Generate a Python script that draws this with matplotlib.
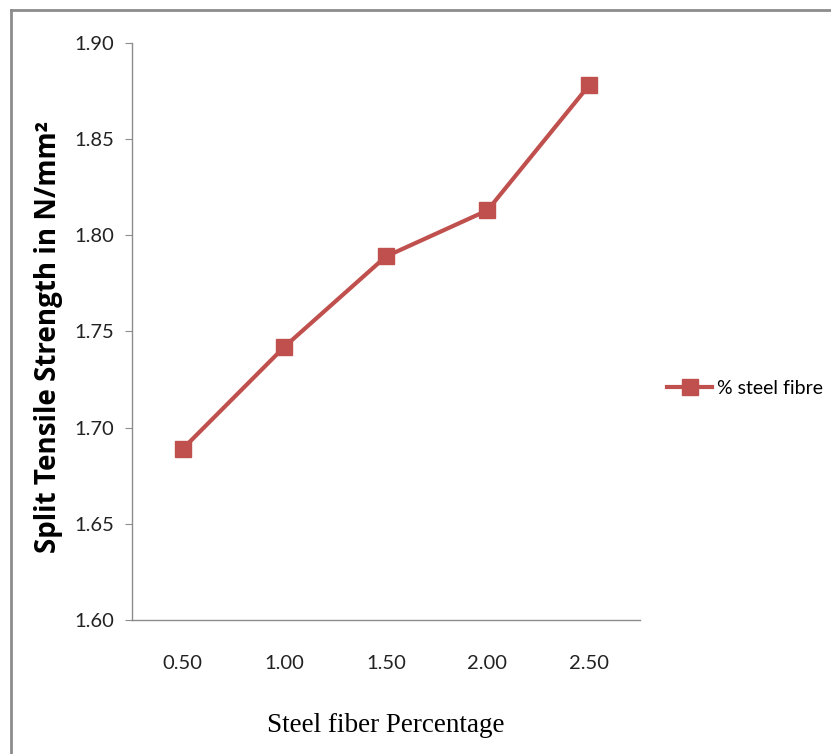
import matplotlib
matplotlib.use("Agg")
import matplotlib.pyplot as plt
from matplotlib.lines import Line2D
import numpy as np

# data
fibre_pct = ["0.50", "1.00", "1.50", "2.00", "2.50"]
split_strength = [1.689, 1.742, 1.789, 1.813, 1.878]
y_ticks = [1.60, 1.65, 1.70, 1.75, 1.80, 1.85, 1.90]

red = "#C0504D"
grey = "#8C8C8C"
tick_font = ["Lato", "DejaVu Sans"]

fig = plt.figure(figsize=(8.31, 7.54), dpi=100)
ax = fig.add_axes([0.1588, 0.1777, 0.6112, 0.7653])

x = np.arange(len(fibre_pct))
ax.plot(x, split_strength, color=red, lw=3.0, marker="s", markersize=12,
        label="% steel fibre")

ax.set_xlim(-0.5, len(fibre_pct) - 0.5)
ax.set_ylim(1.60, 1.90)
ax.set_yticks(y_ticks)
ax.set_yticklabels(["%.2f" % v for v in y_ticks], family=tick_font, fontsize=14.5, color="#222222")
ax.set_xticks(x)
ax.set_xticklabels(fibre_pct, family=tick_font, fontsize=14.5, color="#222222")

for s in ["top", "right"]:
    ax.spines[s].set_visible(False)
for s in ["left", "bottom"]:
    ax.spines[s].set_color(grey)
    ax.spines[s].set_linewidth(1.0)
ax.tick_params(axis="y", length=5, color=grey, pad=8)
ax.tick_params(axis="x", length=0, pad=25)

ax.set_ylabel("Split Tensile Strength in N/mm²", family=["Open Sans", "DejaVu Sans"],
              fontweight="bold", fontsize=20)
ax.yaxis.set_label_coords(-0.136, 0.49)
ax.set_xlabel("Steel fiber Percentage", family=["Liberation Serif", "DejaVu Serif"],
              fontsize=19.5)
ax.xaxis.set_label_coords(0.5, -0.161)

fig.legend(loc="center left", bbox_to_anchor=(0.782, 0.485), frameon=False,
           handlelength=2.3, handletextpad=0.25,
           prop={"family": tick_font, "size": 14})

# outer frame (only top and left edges show)
fig.add_artist(Line2D([0.0132, 0.0132], [0, 0.987], color=grey, lw=2, transform=fig.transFigure))
fig.add_artist(Line2D([0.0132, 1], [0.987, 0.987], color=grey, lw=2, transform=fig.transFigure))

fig.savefig("out.png", dpi=100)
